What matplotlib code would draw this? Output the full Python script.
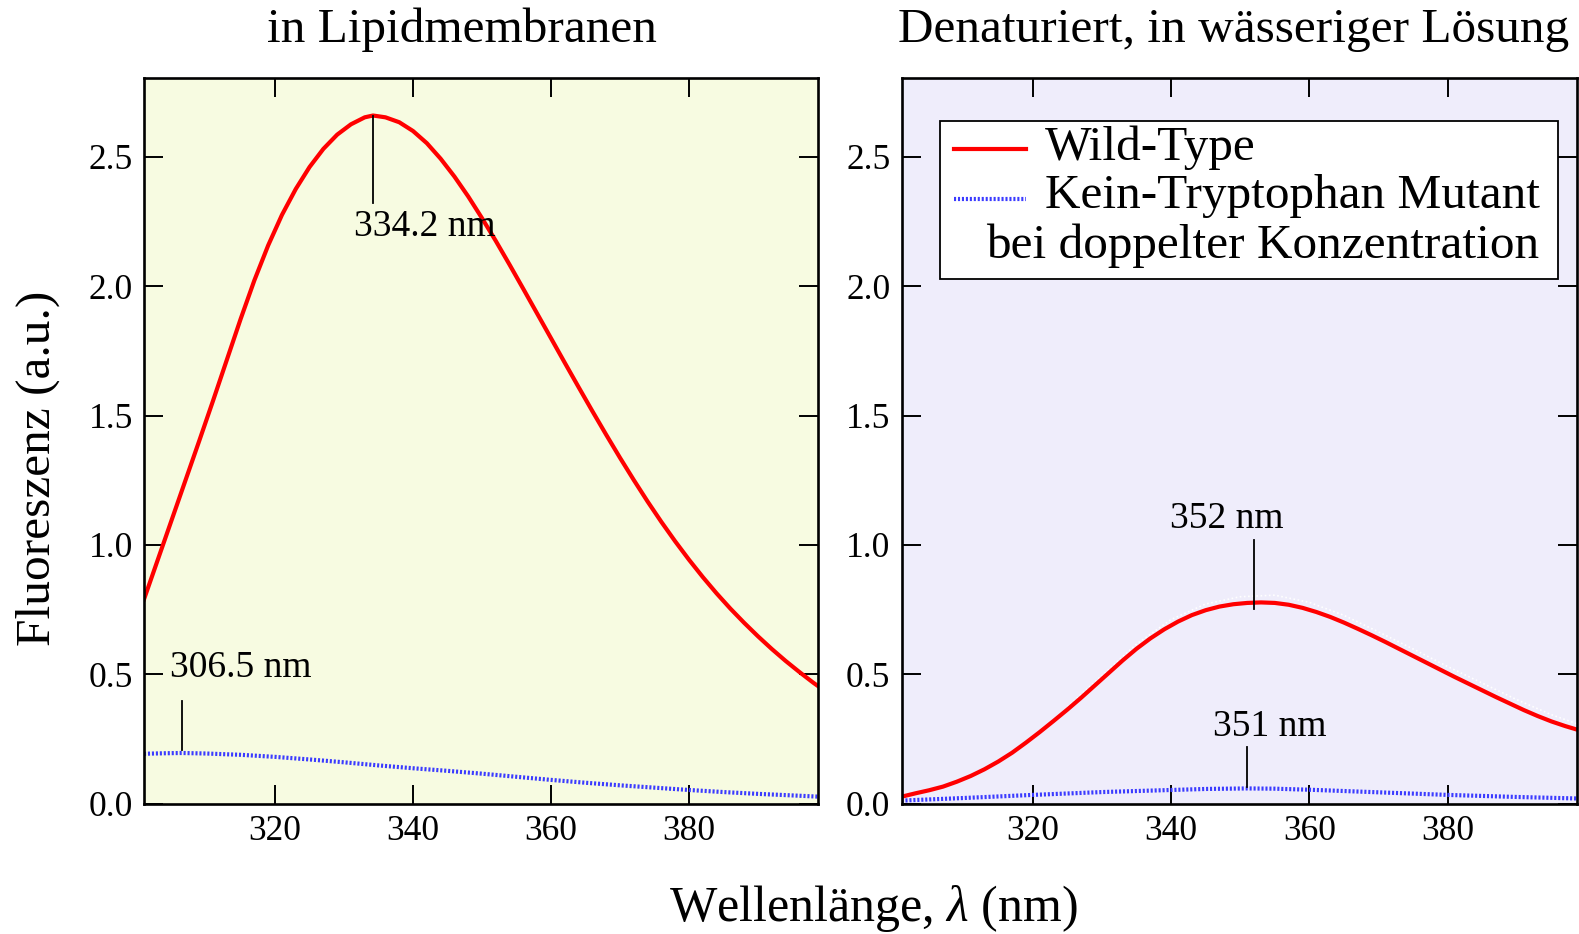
import matplotlib
matplotlib.use("Agg")
import matplotlib.pyplot as plt
from matplotlib.patches import Rectangle
from matplotlib.lines import Line2D

plt.rcParams["font.family"] = ["Liberation Serif", "DejaVu Serif"]
plt.rcParams["mathtext.fontset"] = "custom"
plt.rcParams["mathtext.rm"] = "Liberation Serif"
plt.rcParams["mathtext.it"] = "Liberation Serif:italic"

# Lipidmembran: Wildtyp (rot) und Mutante ohne Tryptophan (blau)
lip_wt_nm = [301, 303, 305, 307, 309, 311, 313, 315, 317, 319, 321, 323, 325, 327,
             329, 331, 333, 334.2, 336, 338, 340, 342, 344, 346, 348, 350, 352, 354,
             356, 358, 360, 362, 364, 366, 368, 370, 372, 374, 376, 378, 380, 382,
             384, 386, 388, 390, 392, 394, 396, 398, 399]
lip_wt = [0.79, 0.943, 1.096, 1.249, 1.402, 1.557, 1.715, 1.873, 2.023, 2.158, 2.276,
          2.376, 2.461, 2.531, 2.586, 2.626, 2.653, 2.66, 2.653, 2.634, 2.600, 2.553,
          2.493, 2.424, 2.347, 2.263, 2.175, 2.083, 1.989, 1.894, 1.799, 1.704, 1.610,
          1.517, 1.426, 1.337, 1.251, 1.168, 1.089, 1.014, 0.943, 0.876, 0.813, 0.754,
          0.699, 0.647, 0.598, 0.552, 0.509, 0.468, 0.449]

lip_mut_nm = [301, 304, 306.5, 310, 315, 320, 325, 330, 335, 340, 345, 350, 355, 360,
              365, 370, 375, 380, 385, 390, 395, 399]
lip_mut = [0.193, 0.195, 0.196, 0.194, 0.189, 0.181, 0.171, 0.160, 0.148, 0.137, 0.127,
           0.116, 0.104, 0.092, 0.081, 0.071, 0.062, 0.053, 0.045, 0.038, 0.032, 0.027]

# denaturiert in Wasser
den_wt_nm = [301, 303, 305, 307, 309, 311, 313, 315, 317, 319, 321, 323, 325, 327, 329,
             331, 333, 335, 337, 339, 341, 343, 345, 347, 349, 351, 353, 355, 357, 359,
             361, 363, 365, 367, 369, 371, 373, 375, 377, 379, 381, 383, 385, 387, 389,
             391, 393, 395, 397, 399]
den_wt = [0.027, 0.040, 0.052, 0.066, 0.085, 0.107, 0.133, 0.163, 0.197, 0.236, 0.277,
          0.320, 0.364, 0.410, 0.458, 0.506, 0.554, 0.599, 0.639, 0.674, 0.704, 0.729,
          0.748, 0.762, 0.771, 0.776, 0.778, 0.776, 0.769, 0.757, 0.741, 0.722, 0.700,
          0.676, 0.651, 0.625, 0.598, 0.571, 0.544, 0.517, 0.490, 0.464, 0.438, 0.412,
          0.387, 0.362, 0.339, 0.318, 0.300, 0.284]

den_ref_nm = [325, 330, 335, 340, 345, 350, 355, 360, 365, 370, 375, 380, 385, 390, 395, 399]
den_ref = [0.375, 0.495, 0.617, 0.712, 0.772, 0.800, 0.806, 0.778, 0.728, 0.664, 0.598,
           0.530, 0.466, 0.402, 0.344, 0.306]

den_mut_nm = [301, 310, 320, 330, 340, 345, 351, 355, 360, 370, 380, 390, 399]
den_mut = [0.012, 0.022, 0.034, 0.045, 0.053, 0.057, 0.059, 0.058, 0.054, 0.044, 0.034,
           0.026, 0.020]

# Maxima-Beschriftungen: (Wellenlänge, Text)
lip_peaks = [(334.2, "334.2 nm"), (306.5, "306.5 nm")]
den_peaks = [(352, "352 nm"), (351, "351 nm")]

RED = "#ff0000"
BLUE = "#3b3bff"
DOTS = (0, (0.5, 0.45))

W, H = 1579, 934
fig = plt.figure(figsize=(W / 100, H / 100), dpi=100)

def px_rect(x0, y0, x1, y1):
    return [x0 / W, 1 - y1 / H, (x1 - x0) / W, (y1 - y0) / H]

ax_l = fig.add_axes(px_rect(144, 78, 818, 803.7), facecolor="#f7fbe1")
ax_r = fig.add_axes(px_rect(901.5, 78, 1577, 803.7), facecolor="#efedfb")

for ax in (ax_l, ax_r):
    ax.set_xlim(301, 398.7)
    ax.set_ylim(0, 2.805)
    ax.set_xticks([320, 340, 360, 380])
    ax.set_yticks([0, 0.5, 1.0, 1.5, 2.0, 2.5])
    ax.yaxis.set_major_formatter(plt.FormatStrFormatter("%.1f"))
    ax.tick_params(direction="in", length=13.5, width=1.4, top=True, right=True,
                   labelsize=25.5, pad=8)
    for sp in ax.spines.values():
        sp.set_linewidth(1.9)

# linkes Panel
ax_l.plot(lip_wt_nm, lip_wt, color=RED, lw=3.0)
ax_l.plot(lip_mut_nm, lip_mut, color=BLUE, lw=3.0, linestyle=DOTS)

wt_peak = max(lip_wt)
ax_l.plot([lip_peaks[0][0]] * 2, [wt_peak, wt_peak - 0.34], color="black", lw=1.3)
ax_l.text(lip_peaks[0][0] - 2.7, wt_peak - 0.43, lip_peaks[0][1], fontsize=27,
          ha="left", va="center")
mut_peak = max(lip_mut)
ax_l.plot([lip_peaks[1][0]] * 2, [mut_peak + 0.01, mut_peak + 0.2], color="black", lw=1.3)
ax_l.text(lip_peaks[1][0] - 1.8, mut_peak + 0.33, lip_peaks[1][1], fontsize=27,
          ha="left", va="center")

# rechtes Panel
ax_r.plot(den_ref_nm, den_ref, color="white", lw=1.2, linestyle=(0, (1, 1.5)))
ax_r.plot(den_wt_nm, den_wt, color=RED, lw=3.0)
ax_r.plot(den_mut_nm, den_mut, color=BLUE, lw=3.0, linestyle=DOTS)

wt_peak = max(den_wt)
ax_r.plot([den_peaks[0][0]] * 2, [wt_peak - 0.025, wt_peak + 0.24], color="black", lw=1.3)
ax_r.text(den_peaks[0][0] - 3.9, wt_peak + 0.325, den_peaks[0][1], fontsize=27,
          ha="center", va="center")
mut_peak = max(den_mut)
ax_r.plot([den_peaks[1][0]] * 2, [mut_peak + 0.007, mut_peak + 0.16], color="black", lw=1.3)
ax_r.text(den_peaks[1][0] + 3.3, mut_peak + 0.24, den_peaks[1][1], fontsize=27,
          ha="center", va="center")

# Legende von Hand, damit die zweite Zeile unter dem Eintrag steht
ax_r.add_patch(Rectangle((0.0577, 0.723), 0.9143, 0.2177, transform=ax_r.transAxes,
                         facecolor="white", edgecolor="black", lw=1.3, zorder=5))
ax_r.add_line(Line2D([0.077, 0.184], [0.902, 0.902], transform=ax_r.transAxes,
                     color=RED, lw=3.0, zorder=6))
ax_r.add_line(Line2D([0.077, 0.184], [0.833, 0.833], transform=ax_r.transAxes,
                     color=BLUE, lw=3.0, linestyle=DOTS, zorder=6))
ax_r.text(0.2124, 0.9035, "Wild-Type", transform=ax_r.transAxes, fontsize=35.5,
          ha="left", va="center", zorder=7)
ax_r.text(0.2124, 0.837, "Kein-Tryptophan Mutant", transform=ax_r.transAxes,
          fontsize=35.5, ha="left", va="center", zorder=7)
ax_r.text(0.125, 0.769, "bei doppelter Konzentration", transform=ax_r.transAxes,
          fontsize=35.5, ha="left", va="center", zorder=7)

fig.text(462 / W, 1 - 30 / H, "in Lipidmembranen", fontsize=35.5, ha="center", va="center")
fig.text(1234 / W, 1 - 30 / H, "Denaturiert, in wässeriger Lösung", fontsize=35.5,
         ha="center", va="center")
fig.text(873 / W, 1 - 908 / H, r"Wellenlänge, $\lambda$ (nm)", fontsize=36,
         ha="center", va="center")
fig.text(38 / W, 1 - 468 / H, "Fluoreszenz (a.u.)", fontsize=35.6, rotation=90,
         ha="center", va="center")

fig.savefig("out.png", dpi=100)
